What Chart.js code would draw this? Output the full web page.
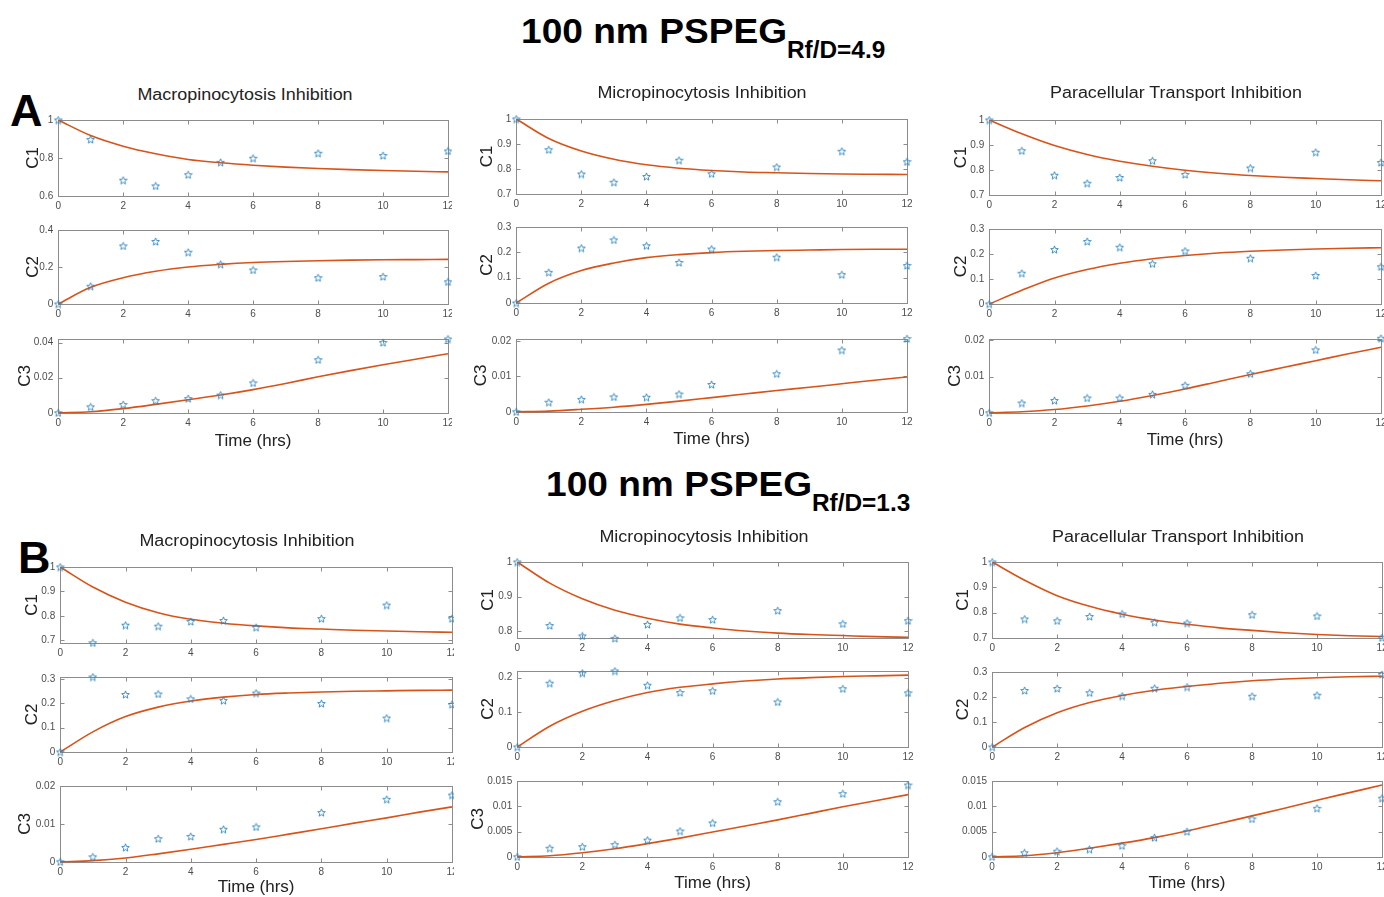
<!DOCTYPE html>
<html><head><meta charset="utf-8">
<script src="https://cdn.jsdelivr.net/npm/chart.js@4.4.1/dist/chart.umd.min.js"></script>
<style>
html,body{margin:0;padding:0;background:#fff}
body{width:1384px;height:897px;overflow:hidden;position:relative;font-family:"Liberation Sans",Arial,sans-serif}
.clip{position:absolute;left:0;top:0;height:897px;overflow:hidden}
.clip canvas{position:absolute}
.head{position:absolute;font-weight:bold;font-size:35px;line-height:35px;white-space:nowrap;color:#000;transform:scaleX(1.06);transform-origin:0 0}
.head sub{font-size:23px;vertical-align:-15px;line-height:0}
.letter{position:absolute;font-weight:bold;font-size:45px;line-height:45px;color:#000}
.ptitle{position:absolute;font-size:16px;color:#222;white-space:nowrap;transform:translate(-50%,-50%) scaleX(1.12)}
</style></head>
<body>
<div class="head" style="left:521px;top:13px">100 nm PSPEG<sub>Rf/D=4.9</sub></div>
<div class="head" style="left:546px;top:466px">100 nm PSPEG<sub>Rf/D=1.3</sub></div>
<div class="letter" style="left:10px;top:88px">A</div>
<div class="letter" style="left:18px;top:535px">B</div>
<script>
// ---------- DATA ----------
const timeObs = [0, 1, 2, 3, 4, 5, 6, 8, 10, 12];
const timeFit = [0, 1, 2, 3, 4, 5, 6, 7, 8, 9, 10, 11, 12];
const timeTicks = [0, 2, 4, 6, 8, 10, 12];
const panelTitles = ['Macropinocytosis Inhibition', 'Micropinocytosis Inhibition', 'Paracellular Transport Inhibition'];
const compLabels = ['C1', 'C2', 'C3'];
const xAxisLabel = 'Time (hrs)';

// Panel A: 100 nm PSPEG Rf/D=4.9
const A_macro_C1_obs = [1.0, 0.898, 0.683, 0.653, 0.712, 0.777, 0.799, 0.825, 0.813, 0.837];
const A_macro_C1_fit = [1.0, 0.918, 0.862, 0.822, 0.792, 0.775, 0.762, 0.752, 0.745, 0.739, 0.734, 0.730, 0.727];
const A_macro_C2_obs = [0, 0.096, 0.314, 0.338, 0.280, 0.215, 0.184, 0.142, 0.148, 0.120];
const A_macro_C2_fit = [0, 0.090, 0.142, 0.177, 0.200, 0.214, 0.224, 0.230, 0.234, 0.237, 0.239, 0.240, 0.241];
const A_macro_C3_obs = [0, 0.0034, 0.0047, 0.0069, 0.0081, 0.0101, 0.0170, 0.0302, 0.0400, 0.0420];
const A_macro_C3_fit = [0, 0.0006, 0.0024, 0.0048, 0.0074, 0.0101, 0.0132, 0.0167, 0.0205, 0.0240, 0.0273, 0.0305, 0.0336];

const A_micro_C1_obs = [1.0, 0.877, 0.780, 0.747, 0.770, 0.835, 0.781, 0.808, 0.871, 0.829];
const A_micro_C1_fit = [1.0, 0.922, 0.872, 0.839, 0.817, 0.803, 0.794, 0.788, 0.785, 0.782, 0.780, 0.779, 0.778];
const A_micro_C2_obs = [0, 0.121, 0.217, 0.249, 0.226, 0.160, 0.213, 0.181, 0.112, 0.148];
const A_micro_C2_fit = [0, 0.078, 0.128, 0.158, 0.179, 0.191, 0.199, 0.204, 0.207, 0.209, 0.211, 0.212, 0.212];
const A_micro_C3_obs = [0, 0.0027, 0.0035, 0.0042, 0.0041, 0.0050, 0.0077, 0.0107, 0.0174, 0.0206];
const A_micro_C3_fit = [0, 0.0002, 0.0007, 0.0013, 0.0021, 0.0030, 0.0040, 0.0050, 0.0060, 0.0069, 0.0079, 0.0089, 0.0098];

const A_para_C1_obs = [1.0, 0.877, 0.779, 0.747, 0.770, 0.837, 0.782, 0.808, 0.871, 0.830];
const A_para_C1_fit = [1.0, 0.945, 0.898, 0.862, 0.835, 0.815, 0.799, 0.787, 0.778, 0.771, 0.766, 0.761, 0.757];
const A_para_C2_obs = [0, 0.123, 0.218, 0.250, 0.227, 0.161, 0.212, 0.183, 0.114, 0.149];
const A_para_C2_fit = [0, 0.055, 0.104, 0.138, 0.163, 0.181, 0.194, 0.204, 0.211, 0.216, 0.220, 0.223, 0.225];
const A_para_C3_obs = [0, 0.0027, 0.0034, 0.0041, 0.0041, 0.0051, 0.0076, 0.0108, 0.0174, 0.0206];
const A_para_C3_fit = [0, 0.0003, 0.0009, 0.0019, 0.0032, 0.0048, 0.0066, 0.0086, 0.0106, 0.0125, 0.0144, 0.0163, 0.0181];

// Panel B: 100 nm PSPEG Rf/D=1.3
const B_macro_C1_obs = [1.0, 0.690, 0.762, 0.758, 0.777, 0.781, 0.753, 0.789, 0.844, 0.789];
const B_macro_C1_fit = [1.0, 0.918, 0.856, 0.813, 0.786, 0.770, 0.759, 0.751, 0.746, 0.741, 0.738, 0.735, 0.733];
const B_macro_C2_obs = [0, 0.309, 0.237, 0.239, 0.219, 0.212, 0.243, 0.200, 0.140, 0.196];
const B_macro_C2_fit = [0, 0.083, 0.146, 0.185, 0.210, 0.226, 0.237, 0.243, 0.247, 0.250, 0.252, 0.254, 0.255];
const B_macro_C3_obs = [0, 0.0013, 0.0038, 0.0061, 0.0067, 0.0086, 0.0092, 0.0130, 0.0165, 0.0176];
const B_macro_C3_fit = [0, 0.0003, 0.0010, 0.0021, 0.0033, 0.0046, 0.0059, 0.0073, 0.0087, 0.0102, 0.0116, 0.0131, 0.0145];

const B_micro_C1_obs = [1.0, 0.817, 0.787, 0.780, 0.820, 0.839, 0.834, 0.860, 0.822, 0.831];
const B_micro_C1_fit = [1.0, 0.939, 0.894, 0.861, 0.838, 0.821, 0.810, 0.801, 0.795, 0.791, 0.788, 0.785, 0.783];
const B_micro_C2_obs = [0, 0.184, 0.213, 0.219, 0.178, 0.157, 0.162, 0.130, 0.168, 0.156];
const B_micro_C2_fit = [0, 0.060, 0.103, 0.134, 0.157, 0.172, 0.182, 0.190, 0.196, 0.200, 0.203, 0.205, 0.207];
const B_micro_C3_obs = [0, 0.0017, 0.0020, 0.0024, 0.0033, 0.0051, 0.0067, 0.0109, 0.0125, 0.0142];
const B_micro_C3_fit = [0, 0.0002, 0.0008, 0.0016, 0.0026, 0.0037, 0.0049, 0.0061, 0.0073, 0.0086, 0.0099, 0.0111, 0.0123];

const B_para_C1_obs = [1.0, 0.775, 0.768, 0.785, 0.795, 0.762, 0.759, 0.792, 0.787, 0.701];
const B_para_C1_fit = [1.0, 0.928, 0.867, 0.825, 0.794, 0.771, 0.754, 0.740, 0.730, 0.721, 0.714, 0.709, 0.706];
const B_para_C2_obs = [0, 0.226, 0.234, 0.217, 0.204, 0.235, 0.240, 0.203, 0.207, 0.290];
const B_para_C2_fit = [0, 0.078, 0.137, 0.178, 0.206, 0.227, 0.242, 0.255, 0.265, 0.272, 0.277, 0.281, 0.283];
const B_para_C3_obs = [0, 0.0008, 0.0011, 0.0015, 0.0022, 0.0038, 0.0050, 0.0075, 0.0096, 0.0116];
const B_para_C3_fit = [0, 0.0002, 0.0008, 0.0017, 0.0027, 0.0038, 0.0051, 0.0066, 0.0081, 0.0096, 0.0112, 0.0127, 0.0142];

// y-axis limits and tick labels
const A_macro_yMin = [0.6, 0, 0],   A_macro_yMax = [1, 0.4, 0.042];
const A_macro_yTicks = [[0.6, 0.8, 1], [0, 0.2, 0.4], [0, 0.02, 0.04]];
const A_micro_yMin = [0.7, 0, 0],   A_micro_yMax = [1, 0.3, 0.0205];
const A_micro_yTicks = [[0.7, 0.8, 0.9, 1], [0, 0.1, 0.2, 0.3], [0, 0.01, 0.02]];
const A_para_yMin = [0.7, 0, 0],    A_para_yMax = [1, 0.3, 0.0204];
const A_para_yTicks = [[0.7, 0.8, 0.9, 1], [0, 0.1, 0.2, 0.3], [0, 0.01, 0.02]];
const B_macro_yMin = [0.689, 0, 0], B_macro_yMax = [1, 0.309, 0.02];
const B_macro_yTicks = [[0.7, 0.8, 0.9, 1], [0, 0.1, 0.2, 0.3], [0, 0.01, 0.02]];
const B_micro_yMin = [0.781, 0, 0], B_micro_yMax = [1, 0.219, 0.015];
const B_micro_yTicks = [[0.8, 0.9, 1], [0, 0.1, 0.2], [0, 0.005, 0.01, 0.015]];
const B_para_yMin = [0.7, 0, 0],    B_para_yMax = [1, 0.3, 0.015];
const B_para_yTicks = [[0.7, 0.8, 0.9, 1], [0, 0.1, 0.2, 0.3], [0, 0.005, 0.01, 0.015]];

// ---------- LAYOUT (pixel positions of each axes box) ----------
const columns = [
  {title: 0, L: 58,  R: 448,  rows: [[117,196],[227,304],[336,413]], labelX: [33,33,25],   timeY: 442, clipW: 452,  tx: 245,  ty: 95,
   obs: [A_macro_C1_obs, A_macro_C2_obs, A_macro_C3_obs], fit: [A_macro_C1_fit, A_macro_C2_fit, A_macro_C3_fit], yMin: A_macro_yMin, yMax: A_macro_yMax, yTicks: A_macro_yTicks},
  {title: 1, L: 516, R: 907,  rows: [[116,194],[224,303],[336,412]], labelX: [487,487,481], timeY: 440, clipW: 1384, tx: 702,  ty: 93,
   obs: [A_micro_C1_obs, A_micro_C2_obs, A_micro_C3_obs], fit: [A_micro_C1_fit, A_micro_C2_fit, A_micro_C3_fit], yMin: A_micro_yMin, yMax: A_micro_yMax, yTicks: A_micro_yTicks},
  {title: 2, L: 989, R: 1381, rows: [[117,195],[226,304],[336,413]], labelX: [961,961,955], timeY: 441, clipW: 1384, tx: 1176, ty: 93,
   obs: [A_para_C1_obs, A_para_C2_obs, A_para_C3_obs], fit: [A_para_C1_fit, A_para_C2_fit, A_para_C3_fit], yMin: A_para_yMin, yMax: A_para_yMax, yTicks: A_para_yTicks},
  {title: 0, L: 60,  R: 452,  rows: [[564,643],[674,752],[783,862]], labelX: [32,32,25],   timeY: 888, clipW: 454,  tx: 247,  ty: 541,
   obs: [B_macro_C1_obs, B_macro_C2_obs, B_macro_C3_obs], fit: [B_macro_C1_fit, B_macro_C2_fit, B_macro_C3_fit], yMin: B_macro_yMin, yMax: B_macro_yMax, yTicks: B_macro_yTicks},
  {title: 1, L: 517, R: 908,  rows: [[559,638],[668,747],[778,857]], labelX: [488,488,478], timeY: 884, clipW: 1384, tx: 704,  ty: 537,
   obs: [B_micro_C1_obs, B_micro_C2_obs, B_micro_C3_obs], fit: [B_micro_C1_fit, B_micro_C2_fit, B_micro_C3_fit], yMin: B_micro_yMin, yMax: B_micro_yMax, yTicks: B_micro_yTicks},
  {title: 2, L: 992, R: 1382, rows: [[559,638],[669,747],[778,857]], labelX: [963,963,null], timeY: 884, clipW: 1384, tx: 1178, ty: 537,
   obs: [B_para_C1_obs, B_para_C2_obs, B_para_C3_obs], fit: [B_para_C1_fit, B_para_C2_fit, B_para_C3_fit], yMin: B_para_yMin, yMax: B_para_yMax, yTicks: B_para_yTicks}
];

// ---------- RENDERING ----------
Chart.defaults.font.family = '"Liberation Sans", Arial, Helvetica, sans-serif';

const STAR_COLOR = '#2b85c2';
const LINE_COLOR = '#d95319';
const BOX_COLOR = '#8c8c8c';
const TICK_COLOR = '#4d4d4d';
const LABEL_SIZE = 17;

function makeStar() {
  const s = 9, c = document.createElement('canvas');
  c.width = s; c.height = s;
  const g = c.getContext('2d');
  g.strokeStyle = STAR_COLOR; g.lineWidth = 0.9; g.lineJoin = 'miter';
  g.beginPath();
  for (let i = 0; i < 10; i++) {
    const r = i % 2 === 0 ? 4 : 1.75;
    const a = -Math.PI / 2 + i * Math.PI / 5;
    const x = s / 2 + r * Math.cos(a), y = s / 2 + 0.4 + r * Math.sin(a);
    if (i) g.lineTo(x, y); else g.moveTo(x, y);
  }
  g.closePath(); g.stroke();
  return c;
}
const starImg = makeStar();

const boxPlugin = {
  id: 'matlabBox',
  beforeDatasetsDraw(chart) {
    const {ctx, chartArea: a, scales: {x, y}} = chart;
    const l = Math.round(a.left) + 0.5, r = Math.round(a.right) + 0.5;
    const t = Math.round(a.top) + 0.5, b = Math.round(a.bottom) + 0.5;
    ctx.save();
    ctx.strokeStyle = BOX_COLOR; ctx.lineWidth = 1;
    ctx.strokeRect(l, t, r - l, b - t);
    ctx.beginPath();
    const tl = 4;
    x.ticks.forEach(tk => {
      const p = Math.round(x.getPixelForValue(tk.value)) + 0.5;
      ctx.moveTo(p, b); ctx.lineTo(p, b - tl);
      ctx.moveTo(p, t); ctx.lineTo(p, t + tl);
    });
    y.ticks.forEach(tk => {
      const p = Math.round(y.getPixelForValue(tk.value)) + 0.5;
      ctx.moveTo(l, p); ctx.lineTo(l + tl, p);
      ctx.moveTo(r, p); ctx.lineTo(r - tl, p);
    });
    ctx.stroke();
    ctx.restore();
  }
};

function fmt(v) { return String(+Number(v).toFixed(4)); }

function makeAxes(container, col, i) {
  const [T, B] = col.rows[i];
  const L = col.L, R = col.R;
  const isLast = i === 2;
  const labelX = col.labelX[i];
  const LH = LABEL_SIZE * 1.2;
  const W = labelX != null ? (L - labelX + LH / 2) : 44;
  const padTop = 8, padRight = 10;
  const H = isLast ? (col.timeY - B + LH / 2) : 18;
  const cw = Math.round(W + (R - L) + padRight);
  const ch = Math.round(padTop + (B - T) + H);
  const cv = document.createElement('canvas');
  cv.width = cw; cv.height = ch;
  cv.style.width = cw + 'px'; cv.style.height = ch + 'px';
  cv.style.left = (L - W) + 'px'; cv.style.top = (T - padTop) + 'px';
  container.appendChild(cv);

  const yt = col.yTicks[i];
  new Chart(cv.getContext('2d'), {
    type: 'scatter',
    data: {
      datasets: [
        {
          type: 'line',
          data: timeFit.map((t, k) => ({x: t, y: col.fit[i][k]})),
          borderColor: LINE_COLOR, borderWidth: 1.6, pointRadius: 0,
          cubicInterpolationMode: 'monotone', fill: false, clip: false, order: 2
        },
        {
          type: 'scatter',
          data: timeObs.map((t, k) => ({x: t, y: col.obs[i][k]})),
          pointStyle: starImg, pointRadius: 4.5, showLine: false, clip: false, order: 1
        }
      ]
    },
    options: {
      responsive: false, animation: false, devicePixelRatio: 1,
      layout: {padding: {top: padTop, right: padRight, left: 0, bottom: 0}},
      plugins: {legend: {display: false}, tooltip: {enabled: false}, title: {display: false}},
      scales: {
        x: {
          type: 'linear', min: 0, max: 12,
          afterBuildTicks: s => { s.ticks = timeTicks.map(v => ({value: v})); },
          afterFit: s => { s.height = H; },
          grid: {display: false, drawTicks: false}, border: {display: false},
          ticks: {color: TICK_COLOR, font: {size: 10}, padding: 4, maxRotation: 0, autoSkip: false, callback: v => fmt(v)},
          title: {display: isLast, text: xAxisLabel, color: '#222', font: {size: LABEL_SIZE}, padding: 0}
        },
        y: {
          type: 'linear', min: col.yMin[i], max: col.yMax[i],
          afterBuildTicks: s => { s.ticks = yt.map(v => ({value: v})); },
          afterFit: s => { s.width = W; },
          grid: {display: false, drawTicks: false}, border: {display: false},
          ticks: {color: TICK_COLOR, font: {size: 10}, padding: 5, autoSkip: false, callback: v => fmt(v)},
          title: {display: labelX != null, text: compLabels[i], color: '#222', font: {size: LABEL_SIZE}, padding: 0}
        }
      }
    },
    plugins: [boxPlugin]
  });
}

columns.forEach(col => {
  const clip = document.createElement('div');
  clip.className = 'clip';
  clip.style.width = col.clipW + 'px';
  document.body.appendChild(clip);
  for (let i = 0; i < 3; i++) makeAxes(clip, col, i);
  const tt = document.createElement('div');
  tt.className = 'ptitle';
  tt.style.left = col.tx + 'px'; tt.style.top = col.ty + 'px';
  tt.textContent = panelTitles[col.title];
  document.body.appendChild(tt);
});
</script>
</body></html>
